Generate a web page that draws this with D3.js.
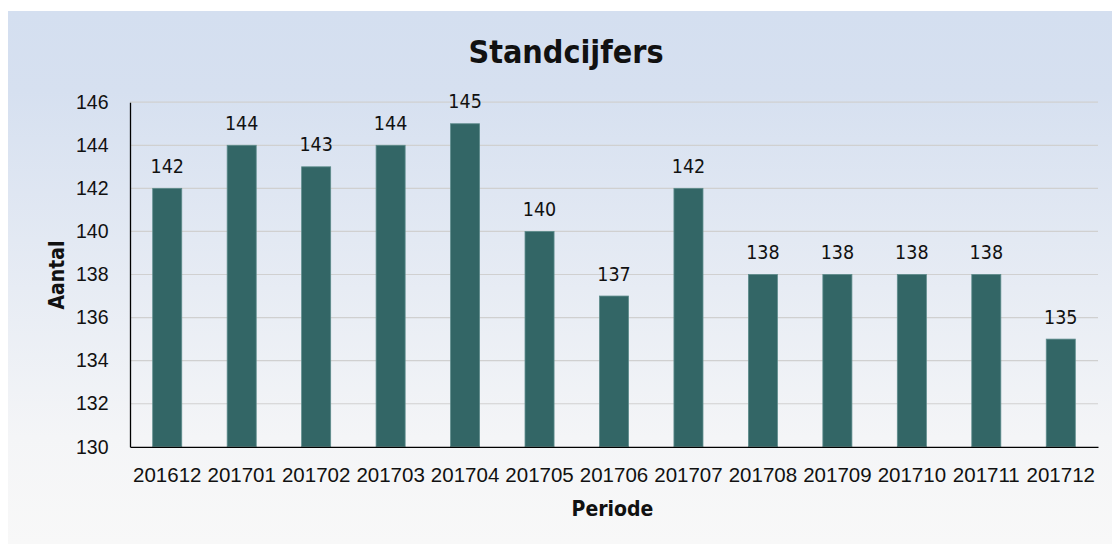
<!DOCTYPE html>
<html><head><meta charset="utf-8">
<script src="https://cdn.jsdelivr.net/npm/d3@7"></script>
<style>
html,body{margin:0;padding:0;background:#fff;}
svg{display:block;font-family:"DejaVu Sans Condensed","DejaVu Sans",sans-serif;font-stretch:condensed;}
</style></head>
<body>
<svg id="chart" width="1112" height="544"></svg>
<script>
const categories = ["201612","201701","201702","201703","201704","201705","201706","201707","201708","201709","201710","201711","201712"];
const values = [142,144,143,144,145,140,137,142,138,138,138,138,135];
const yTicks = [130,132,134,136,138,140,142,144,146];
const title = "Standcijfers";
const xTitle = "Periode";
const yTitle = "Aantal";

const svg = d3.select("#chart");
const defs = svg.append("defs");
const grad = defs.append("linearGradient").attr("id","bg").attr("x1",0).attr("y1",0).attr("x2",0).attr("y2",1);
grad.append("stop").attr("offset","0%").attr("stop-color","#d4dff0");
grad.append("stop").attr("offset","15%").attr("stop-color","#d6e0f0");
grad.append("stop").attr("offset","80%").attr("stop-color","#f4f5f7");
grad.append("stop").attr("offset","100%").attr("stop-color","#f8f8f8");
svg.append("rect").attr("x",8).attr("y",11).attr("width",1104).attr("height",533).attr("fill","url(#bg)");

const m = {left:130, right:1098, top:102.2, bottom:446.8};
const x = d3.scaleBand().domain(categories).range([m.left,m.right]).paddingInner(0.61).paddingOuter(0.305);
const y = d3.scaleLinear().domain([130,146]).range([m.bottom,m.top]);

// grid
svg.append("g").selectAll("line").data(yTicks.filter(t=>t>130)).join("line")
  .attr("x1",m.left).attr("x2",m.right).attr("y1",d=>y(d)).attr("y2",d=>y(d))
  .attr("stroke","#d0d0d0").attr("stroke-width",1.2);

// bars
svg.append("g").selectAll("rect").data(values).join("rect")
  .attr("x",(d,i)=>x(categories[i])).attr("width",x.bandwidth())
  .attr("y",d=>y(d)).attr("height",d=>y(130)-y(d))
  .attr("fill","#336666").attr("stroke","#5e8c8c").attr("stroke-width",0.8);

// value labels
svg.append("g").selectAll("text").data(values).join("text")
  .attr("x",(d,i)=>x(categories[i])+x.bandwidth()/2).attr("y",d=>y(d)-15.5)
  .attr("text-anchor","middle").attr("font-size",19.5).attr("fill","#111").text(d=>d);

// axes
const yAxis = d3.axisLeft(y).tickValues(yTicks).tickSize(0).tickPadding(21.5);
const gy = svg.append("g").attr("transform",`translate(${m.left},0)`).call(yAxis);
gy.select(".domain").attr("stroke","#000").attr("stroke-width",1.3);
gy.selectAll("text").attr("font-size",19.5).attr("fill","#111").attr("font-family",null);

const xAxis = d3.axisBottom(x).tickSize(0).tickPadding(21);
const gx = svg.append("g").attr("transform",`translate(0,${m.bottom})`).call(xAxis);
gx.select(".domain").attr("stroke","#000").attr("stroke-width",1.3);
gx.selectAll("text").attr("font-size",20.5).attr("fill","#111").attr("font-family",null);

// titles
svg.append("text").attr("x",566).attr("y",63).attr("text-anchor","middle")
  .attr("font-size",32).attr("font-weight","bold").attr("fill","#111").text(title);
svg.append("text").attr("x",612.5).attr("y",516).attr("text-anchor","middle")
  .attr("font-size",21).attr("font-weight","bold").attr("fill","#111").text(xTitle);
svg.append("text").attr("transform","translate(64,275) rotate(-90)").attr("text-anchor","middle")
  .attr("font-size",21).attr("font-weight","bold").attr("fill","#111").text(yTitle);
</script>
</body></html>
